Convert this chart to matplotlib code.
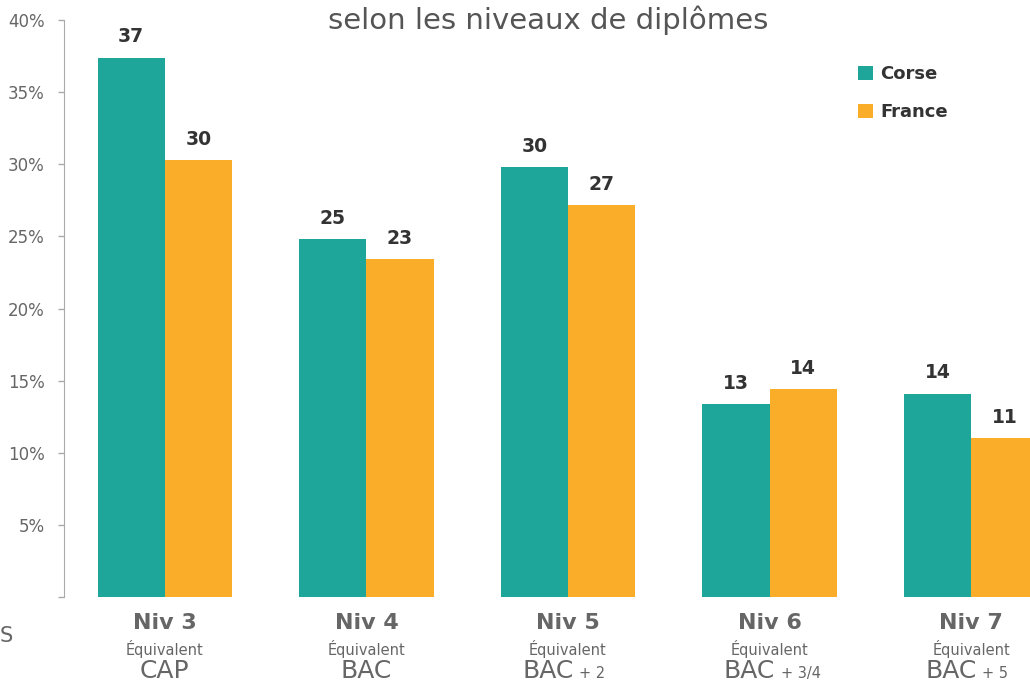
import matplotlib.pyplot as plt
import matplotlib.transforms as mtransforms

# data
niveaux = ['Niv 3', 'Niv 4', 'Niv 5', 'Niv 6', 'Niv 7']
equiv_main = ['CAP', 'BAC', 'BAC', 'BAC', 'BAC']
equiv_suffix = ['', '', '+ 2', '+ 3/4', '+ 5']
corse = [37.4, 24.8, 29.8, 13.4, 14.1]
france = [30.3, 23.4, 27.2, 14.4, 11.0]
y_ticks = [0, 5, 10, 15, 20, 25, 30, 35, 40]

teal = '#1fa69a'
orange = '#f9ad28'
grey = '#666666'
dark = '#333333'

fig = plt.figure(figsize=(10.30, 6.84), dpi=100)
W, H = 1030, 684
# axes: x from 64px to 1072px (runs past the right edge), y from 20px to 597px
ax = fig.add_axes([64 / W, (H - 597) / H, 1008 / W, 577 / H])

x = list(range(len(niveaux)))
w = 1 / 3
ax.bar([i - w / 2 for i in x], corse, width=w, color=teal, label='Corse')
ax.bar([i + w / 2 for i in x], france, width=w, color=orange, label='France')

for i in x:
    ax.annotate(f'{round(corse[i])}', (i - w / 2, corse[i]), xytext=(0, 8),
                textcoords='offset points', ha='center', va='bottom',
                fontsize=13.5, fontweight='bold', color=dark)
    ax.annotate(f'{round(france[i])}', (i + w / 2, france[i]), xytext=(0, 8),
                textcoords='offset points', ha='center', va='bottom',
                fontsize=13.5, fontweight='bold', color=dark)

ax.set_xlim(-0.5, 4.5)
ax.set_ylim(0, 40)
ax.set_yticks(y_ticks)
ax.set_yticklabels(['' if t == 0 else f'{t}%' for t in y_ticks])
ax.tick_params(axis='y', length=4, width=1, color='#aaaaaa', labelsize=12,
               labelcolor=grey, pad=10)
ax.set_xticks([])
for s in ['top', 'right', 'bottom']:
    ax.spines[s].set_visible(False)
ax.spines['left'].set_color('#aaaaaa')

# category labels under the bars
trans = mtransforms.blended_transform_factory(ax.transData, fig.transFigure)
for i in x:
    ax.text(i, 1 - 629 / H, niveaux[i], transform=trans, ha='center', va='baseline',
            fontsize=16, fontweight='bold', color=grey)
    ax.text(i, 1 - 655 / H, 'Équivalent', transform=trans, ha='center', va='baseline',
            fontsize=10.5, color=grey)
    if equiv_suffix[i]:
        ax.annotate(equiv_main[i], (i, 1 - 678 / H), xycoords=trans,
                    xytext=(4, 0), textcoords='offset points',
                    ha='right', va='baseline', fontsize=18, color=grey)
        ax.annotate(equiv_suffix[i], (i, 1 - 678 / H), xycoords=trans,
                    xytext=(8, 0), textcoords='offset points',
                    ha='left', va='baseline', fontsize=10.5, color=grey)
    else:
        ax.text(i, 1 - 678 / H, equiv_main[i], transform=trans, ha='center',
                va='baseline', fontsize=18, color=grey)

# title, cut at the top like the original
fig.text(548 / W, 1 - 20 / H, 'selon les niveaux de diplômes', ha='center',
         va='center', fontsize=21, color='#555555')
fig.text(0, 1 - 636 / H, 'S', ha='left', va='center', fontsize=15, color=grey)

ax.legend(loc='upper left', bbox_to_anchor=(842 / W, 1 - 49 / H),
          bbox_transform=fig.transFigure, frameon=False, handlelength=0.8,
          handleheight=0.8, handletextpad=0.4, labelspacing=1.1,
          prop={'size': 13, 'weight': 'bold'}, labelcolor=dark)

fig.savefig('out.png', dpi=100)
